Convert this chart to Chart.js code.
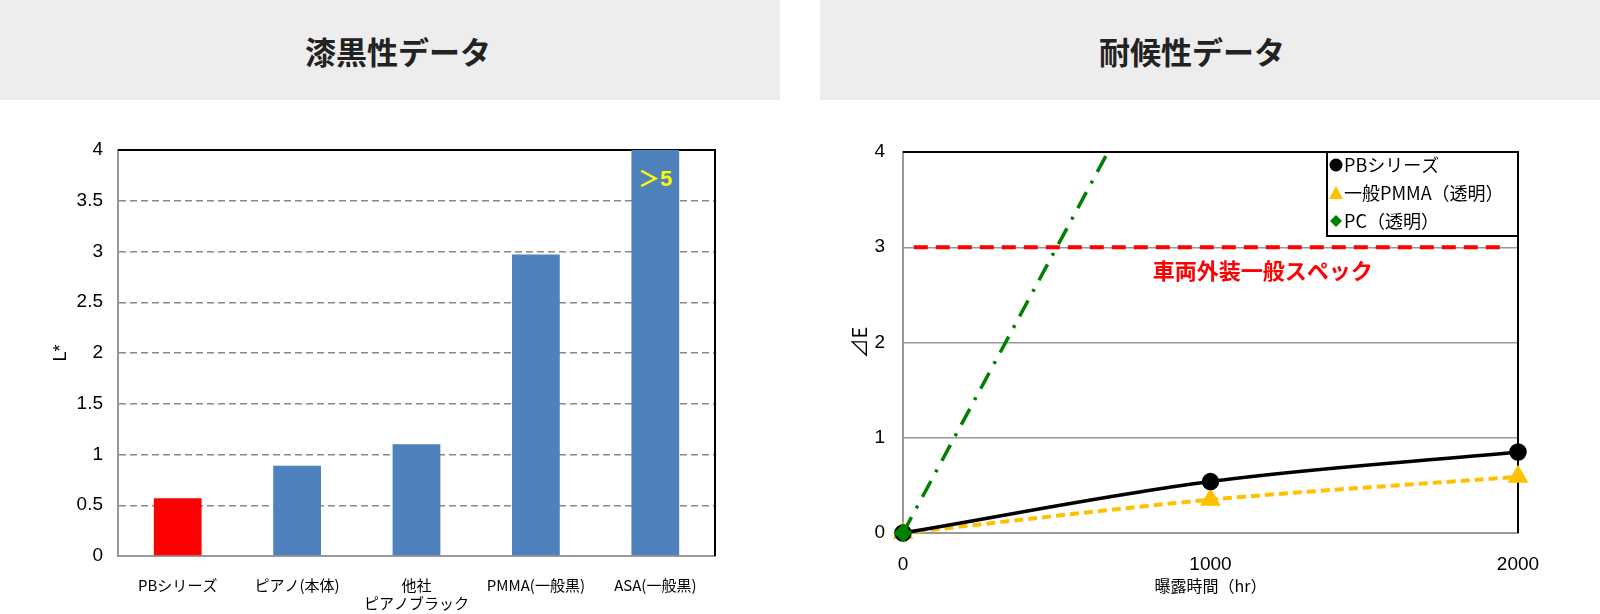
<!DOCTYPE html>
<html lang="ja">
<head>
<meta charset="utf-8">
<script src="https://cdn.jsdelivr.net/npm/chart.js@4.4.1/dist/chart.umd.min.js"></script>
<style>
html, body { margin:0; padding:0; background:#fff; width:1600px; height:614px; overflow:hidden; }
.head { position:absolute; top:0; height:100px; background:#ededed; display:flex; align-items:center; justify-content:center;
        font:bold 31px 'Noto Sans CJK JP', sans-serif; color:#222; box-sizing:border-box; }
.box { position:absolute; top:100px; width:780px; height:514px; }
</style>
</head>
<body>
<div class="head" style="left:0;width:780px;padding-left:16px">漆黒性データ</div>
<div class="head" style="left:820px;width:780px;padding-right:36px">耐候性データ</div>
<div class="box" style="left:0"><canvas id="blackness"></canvas></div>
<div class="box" style="left:820px"><canvas id="weather"></canvas></div>
<script>
// left chart: L* per material
const barCats = ['PBシリーズ', 'ピアノ(本体)', ['他社', 'ピアノブラック'], 'PMMA(一般黒)', 'ASA(一般黒)'];
const lValues = [0.57, 0.89, 1.1, 2.97, 5];
const barNotes = ['', '', '', '', '＞5'];
const barColors = ['#ff0000', '#4f81bd', '#4f81bd', '#4f81bd', '#4f81bd'];

// right chart: ΔE vs exposure time
const hours = [0, 1000, 2000];
const seriesNames = ['PBシリーズ', '一般PMMA（透明）', 'PC（透明）'];
const pbDE = [0, 0.54, 0.85];
const pmmaDE = [0, 0.35, 0.59];
const pcDE = [0, 6.0, null];
const specLevel = 3;
const specHours = [35, 1965];
const specLabel = '車両外装一般スペック';
const specLabelAt = [1170, 2.75];

const SANS = "'Liberation Sans', 'Noto Sans CJK JP', sans-serif";
const JP = "'Noto Sans CJK JP', sans-serif";

// black top + right frame, drawn under the data
const frame = {
  id: 'frame',
  beforeDatasetsDraw(chart) {
    const {ctx, chartArea: a} = chart;
    ctx.save();
    ctx.strokeStyle = '#000';
    ctx.lineWidth = 2;
    ctx.beginPath();
    ctx.moveTo(a.left, a.top);
    ctx.lineTo(a.right, a.top);
    ctx.lineTo(a.right, a.bottom);
    ctx.stroke();
    ctx.restore();
  }
};

const barNotePlugin = {
  id: 'barNotes',
  afterDatasetsDraw(chart) {
    const {ctx, chartArea} = chart;
    const meta = chart.getDatasetMeta(0);
    ctx.save();
    ctx.fillStyle = '#ffff00';
    ctx.font = 'bold 22px ' + SANS;
    ctx.textAlign = 'center';
    ctx.textBaseline = 'middle';
    barNotes.forEach((t, i) => { if (t) ctx.fillText(t, meta.data[i].x, chartArea.top + 30); });
    ctx.restore();
  }
};

new Chart(document.getElementById('blackness'), {
  type: 'bar',
  data: {
    labels: barCats,
    datasets: [{ data: lValues, backgroundColor: barColors, categoryPercentage: 1, barPercentage: 0.4 }]
  },
  options: {
    responsive: true, maintainAspectRatio: false, animation: false,
    layout: { padding: { top: 50, right: 65 } },
    plugins: { legend: { display: false }, tooltip: { enabled: false } },
    scales: {
      x: {
        grid: { display: false },
        border: { color: '#999', width: 2 },
        ticks: { color: '#000', font: { family: JP, size: 15 }, padding: 12, maxRotation: 0 },
        afterFit: s => { s.height = 58; }
      },
      y: {
        min: 0, max: 4,
        ticks: { stepSize: 0.5, color: '#000', font: { family: SANS, size: 19 }, padding: 15, callback: v => String(v) },
        grid: { drawTicks: false, lineWidth: 1.5,
                color: c => (c.tick.value === 0 || c.tick.value === 4) ? 'rgba(0,0,0,0)' : '#888' },
        border: { color: '#999', width: 2, dash: [7, 4] },
        title: { display: true, text: 'L*', color: '#000', font: { family: SANS, size: 18 }, padding: { top: 50 } },
        afterFit: s => { s.width = 118; }
      }
    }
  },
  plugins: [frame, barNotePlugin]
});

const pts = vals => hours.map((h, i) => ({ x: h, y: vals[i] }));

const specText = {
  id: 'specText',
  afterDatasetsDraw(chart) {
    const {ctx, scales} = chart;
    ctx.save();
    ctx.fillStyle = '#ff0000';
    ctx.font = 'bold 22px ' + JP;
    ctx.textAlign = 'center';
    ctx.textBaseline = 'middle';
    ctx.fillText(specLabel, scales.x.getPixelForValue(specLabelAt[0]), scales.y.getPixelForValue(specLabelAt[1]));
    ctx.restore();
  }
};

// legend box in the upper right corner of the plot
const boxLegend = {
  id: 'boxLegend',
  afterDraw(chart) {
    const {ctx, chartArea: a} = chart;
    const w = 191, h = 84, left = a.right - w, top = a.top;
    ctx.save();
    ctx.fillStyle = '#fff';
    ctx.fillRect(left, top, w, h);
    ctx.strokeStyle = '#000';
    ctx.lineWidth = 2;
    ctx.strokeRect(left, top, w, h);
    ctx.font = '18px ' + JP;
    ctx.textBaseline = 'middle';
    seriesNames.forEach((name, i) => {
      const ds = chart.data.datasets[i];
      const y = top + 13 + i * 28, x = left + 9;
      ctx.fillStyle = ds.pointBackgroundColor;
      ctx.beginPath();
      if (ds.pointStyle === 'circle') ctx.arc(x, y, 6.5, 0, Math.PI * 2);
      else if (ds.pointStyle === 'triangle') { ctx.moveTo(x, y - 7); ctx.lineTo(x + 7, y + 6); ctx.lineTo(x - 7, y + 6); ctx.closePath(); }
      else { ctx.moveTo(x, y - 6); ctx.lineTo(x + 6, y); ctx.lineTo(x, y + 6); ctx.lineTo(x - 6, y); ctx.closePath(); }
      ctx.fill();
      ctx.fillStyle = '#000';
      ctx.fillText(name, left + 17, y);
    });
    ctx.restore();
  }
};

new Chart(document.getElementById('weather'), {
  type: 'line',
  data: {
    datasets: [
      { label: seriesNames[0], data: pts(pbDE), borderColor: '#000', borderWidth: 3.5, tension: 0.35, clip: false,
        pointStyle: 'circle', pointRadius: 7, pointBackgroundColor: '#000', pointBorderColor: '#000', order: 1 },
      { label: seriesNames[1], data: pts(pmmaDE), borderColor: '#ffc000', borderWidth: 4, borderDash: [9, 5], tension: 0.3, clip: false,
        pointStyle: 'triangle', pointRadius: 8, pointBackgroundColor: '#ffc000', pointBorderColor: '#ffc000', order: 2 },
      { label: seriesNames[2], data: pts(pcDE), borderColor: '#008000', borderWidth: 3.5, borderDash: [18, 10, 3, 10],
        clip: { left: 12, bottom: 12, top: 0, right: 0 },
        pointStyle: 'rectRot', pointRadius: 7, pointBackgroundColor: '#008000', pointBorderColor: '#008000', order: 0 },
      { label: 'spec', data: specHours.map(h => ({ x: h, y: specLevel })), borderColor: '#ff0000', borderWidth: 4,
        borderDash: [14, 8], pointRadius: 0, order: 3 }
    ]
  },
  options: {
    responsive: true, maintainAspectRatio: false, animation: false,
    layout: { padding: { top: 52, right: 82 } },
    plugins: { legend: { display: false }, tooltip: { enabled: false } },
    scales: {
      x: {
        type: 'linear', min: 0, max: 2000,
        grid: { display: false },
        border: { color: '#999', width: 2 },
        ticks: { stepSize: 1000, color: '#000', font: { family: SANS, size: 19 }, padding: 12, callback: v => String(v) },
        title: { display: true, text: '曝露時間（hr）', color: '#000', font: { family: JP, size: 16 }, padding: { bottom: 18 } },
        afterFit: s => { s.height = 81; }
      },
      y: {
        min: 0, max: 4,
        ticks: { stepSize: 1, color: '#000', font: { family: SANS, size: 19 }, padding: 18 },
        grid: { drawTicks: false, lineWidth: 1.5,
                color: c => (c.tick.value === 0 || c.tick.value === 4) ? 'rgba(0,0,0,0)' : '#999' },
        border: { color: '#999', width: 2 },
        title: { display: true, text: '⊿E', color: '#000', font: { family: JP, size: 20 }, padding: { top: 27 } },
        afterFit: s => { s.width = 83; }
      }
    }
  },
  plugins: [frame, specText, boxLegend]
});
</script>
</body>
</html>
